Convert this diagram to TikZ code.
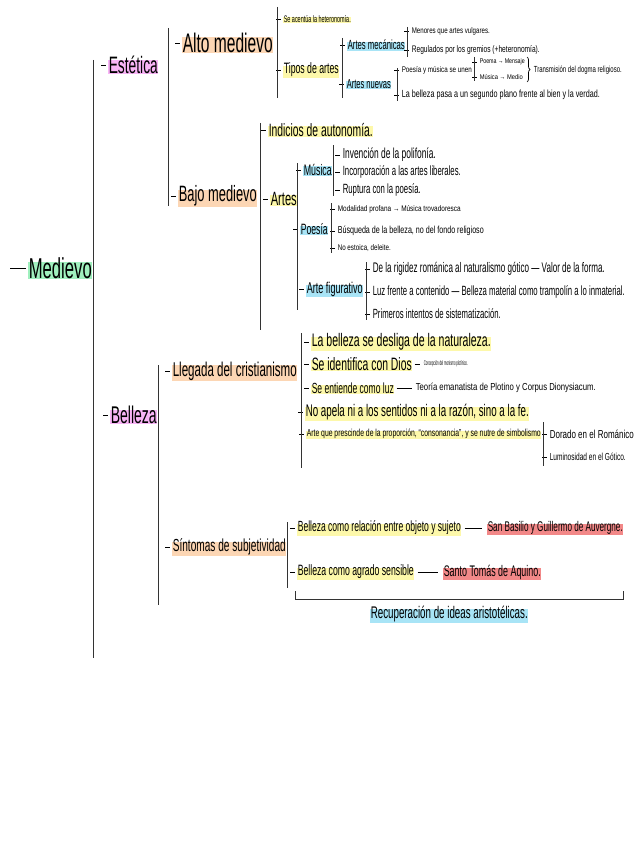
\documentclass[tikz,border=0pt]{standalone}
\usepackage{fontspec}
\setmainfont{Liberation Sans}
\newfontfamily\hand{Liberation Sans}[FakeStretch=0.58]
\usetikzlibrary{calc,decorations.pathreplacing}
\definecolor{hgreen}{RGB}{160,240,190}
\definecolor{hpink}{RGB}{248,180,246}
\definecolor{horange}{RGB}{252,214,180}
\definecolor{hyellow}{RGB}{253,248,170}
\definecolor{hblue}{RGB}{168,228,246}
\definecolor{hred}{RGB}{242,136,136}
\newcommand\T[2]{\resizebox{#1pt}{!}{#2}}
\newcommand\Tsz[3]{\resizebox{#1pt}{#2pt}{#3}}
\begin{document}
\begin{tikzpicture}[x=1pt,y=-1pt,
  txt/.style={anchor=west,inner sep=0.6pt,font=\hand},
  hl/.style={txt,path picture={\fill[#1] (path picture bounding box.south west) rectangle ($(path picture bounding box.south east)!0.78!(path picture bounding box.north east)$);}},
  bar/.style={line width=0.9pt,black!80},
  lead/.style={line width=0.6pt,black}]
\useasboundingbox (0,0) rectangle (636,848);

% ---- level 0 / 1 / 2
\node[hl=hgreen] (med) at (28,268) {\T{63}{Medievo}};
\node[hl=hpink] (est) at (108,65) {\T{49}{Estética}};
\node[hl=hpink] (bel) at (110,415) {\T{46}{Belleza}};
\node[hl=horange] (alto) at (182,43) {\T{90}{Alto medievo}};
\node[hl=horange] (bajo) at (178,196) {\T{78}{Bajo medievo}};
\node[hl=horange] (lleg) at (172,371) {\T{124}{Llegada del cristianismo}};
\node[hl=horange] (sint) at (172,547) {\T{113}{Síntomas de subjetividad}};

% ---- Alto medievo
\node[hl=hyellow] (acent) at (283,19) {\Tsz{67}{7}{Se acentúa la heteronomía.}};
\node[hl=hyellow] (tipos) at (283,70) {\T{55}{Tipos de artes}};
\node[hl=hblue] (mec) at (347,45) {\T{57}{Artes mecánicas}};
\node[hl=hblue] (nue) at (346,84) {\T{44}{Artes nuevas}};
\node[txt] (men) at (411,31) {\Tsz{78}{6}{Menores que artes vulgares.}};
\node[txt] (reg) at (411,50) {\Tsz{128}{7}{Regulados por los gremios (+heteronomía).}};
\node[txt] (pym) at (401,70) {\Tsz{70}{6}{Poesía y música se unen}};
\node[txt] (pasa) at (401,95) {\Tsz{198}{7.5}{La belleza pasa a un segundo plano frente al bien y la verdad.}};
\node[txt] (poema) at (479,62) {\Tsz{45}{5}{Poema → Mensaje}};
\node[txt] (musm) at (479,77) {\Tsz{43}{5}{Música → Medio}};
\node[txt] (trans) at (533,70) {\Tsz{88}{6.5}{Transmisión del dogma religioso.}};

% ---- Bajo medievo
\node[hl=hyellow] (indic) at (268,130) {\T{104}{Indicios de autonomía.}};
\node[hl=hyellow] (artes) at (270,199) {\T{26}{Artes}};
\node[hl=hblue] (musica) at (303,170) {\T{28}{Música}};
\node[hl=hblue] (poesia) at (300,229) {\T{27}{Poesía}};
\node[hl=hblue] (figur) at (306,289) {\T{56}{Arte figurativo}};
\node[txt] (inv) at (342,155) {\T{93}{Invención de la polifonía.}};
\node[txt] (inc) at (342,172) {\T{118}{Incorporación a las artes liberales.}};
\node[txt] (rup) at (342,190) {\T{78}{Ruptura con la poesía.}};
\node[txt] (mod) at (337,209) {\Tsz{123}{6}{Modalidad profana → Música trovadoresca}};
\node[txt] (bus) at (337,231) {\Tsz{146}{7.5}{Búsqueda de la belleza, no del fondo religioso}};
\node[txt] (noe) at (337,248) {\Tsz{53}{6}{No estoica, deleite.}};
\node[txt] (rig) at (372,269) {\T{232}{De la rigidez románica al naturalismo gótico — Valor de la forma.}};
\node[txt] (luz) at (372,292) {\T{252}{Luz frente a contenido — Belleza material como trampolín a lo inmaterial.}};
\node[txt] (prim) at (372,314) {\T{128}{Primeros intentos de sistematización.}};

% ---- Llegada del cristianismo
\node[hl=hyellow] (l1) at (311,342) {\T{179}{La belleza se desliga de la naturaleza.}};
\node[hl=hyellow] (l2) at (311,364) {\T{100}{Se identifica con Dios}};
\node[txt] (l2b) at (423,364) {\Tsz{44}{5}{Concepción del monismo plotínico.}};
\node[hl=hyellow] (l3) at (311,388) {\T{82}{Se entiende como luz}};
\node[txt] (l3b) at (415,388) {\Tsz{180}{7.5}{Teoría emanatista de Plotino y Corpus Dionysiacum.}};
\node[hl=hyellow] (l4) at (305,412) {\T{223}{No apela ni a los sentidos ni a la razón, sino a la fe.}};
\node[hl=hyellow] (l5) at (306,434) {\Tsz{234}{7.5}{Arte que prescinde de la proporción, “consonancia”, y se nutre de simbolismo}};
\node[txt] (dor) at (549,434) {\Tsz{84}{8.5}{Dorado en el Románico}};
\node[txt] (lum) at (549,457) {\Tsz{76}{7.5}{Luminosidad en el Gótico.}};

% ---- Síntomas de subjetividad
\node[hl=hyellow] (s1) at (297,528) {\T{163}{Belleza como relación entre objeto y sujeto}};
\node[hl=hred] (s1b) at (487,528) {\T{135}{San Basilio y Guillermo de Auvergne.}};
\node[hl=hyellow] (s2) at (297,572) {\T{116}{Belleza como agrado sensible}};
\node[hl=hred] (s2b) at (443,572) {\T{97}{Santo Tomás de Aquino.}};
\node[hl=hblue] (rec) at (370,614) {\T{157}{Recuperación de ideas aristotélicas.}};

% ---- lead dashes
\draw[lead] ([xshift=-18pt]med.west) -- ([xshift=-2pt]med.west);
\foreach \n in {est,bel,alto,bajo,lleg,sint,acent,tipos,mec,nue,men,reg,pym,pasa,poema,musm,
  indic,artes,musica,poesia,figur,inv,inc,rup,mod,bus,noe,rig,luz,prim,l1,l2,l3,l4,l5,dor,lum,s1,s2}
  \draw[lead] ([xshift=-7pt]\n.west) -- ([xshift=-2pt]\n.west);

% ---- em-dash connectors
\draw[lead] ([xshift=2pt]l2.east) -- ([xshift=-3pt]l2b.west);
\draw[lead] ([xshift=2pt]l3.east) -- ([xshift=-3pt]l3b.west);
\draw[lead] ([xshift=3pt]s1.east) -- ([xshift=-5pt]s1b.west);
\draw[lead] ([xshift=3pt]s2.east) -- ([xshift=-5pt]s2b.west);

% ---- brackets
\draw[bar] (93,60) -- (93,658);
\draw[bar] (168,28) -- (168,206);
\draw[bar] (158,365) -- (158,605);
\draw[bar] (277,7) -- (277,98);
\draw[bar] (260,123) -- (260,330);
\draw[bar] (342,38) -- (342,98);
\draw[bar] (407,27) -- (407,57);
\draw[bar] (397,68) -- (397,101);
\draw[bar] (474,57) -- (474,81);
\draw[bar] (297,163) -- (297,310);
\draw[bar] (333,145) -- (333,196);
\draw[bar] (331,203) -- (331,253);
\draw[bar] (366,262) -- (366,320);
\draw[bar] (301,333) -- (301,468);
\draw[bar] (543,422) -- (543,466);
\draw[bar] (287,522) -- (287,588);
\draw[line width=0.7pt,decorate,decoration={brace,amplitude=3pt}] (527,57) -- (527,82);
\draw[bar] (295,591) -- (295,599) -- (623,599) -- (623,591);
\end{tikzpicture}
\end{document}
